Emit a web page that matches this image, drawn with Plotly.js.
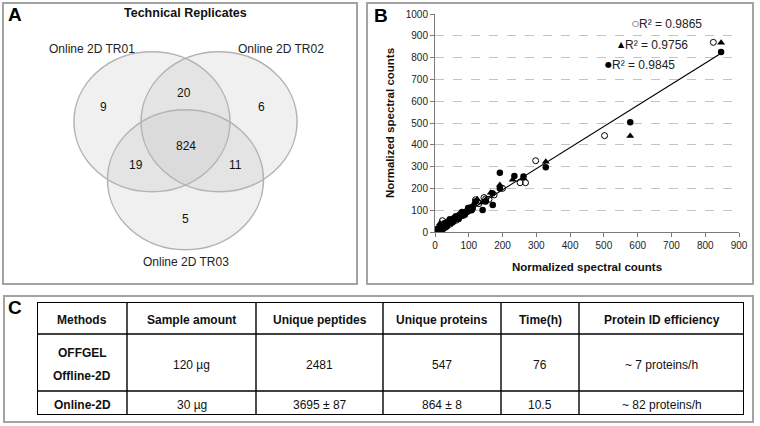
<!DOCTYPE html>
<html>
<head>
<meta charset="utf-8">
<script src="https://cdn.plot.ly/plotly-3.0.1.min.js"></script>
<style>html,body{margin:0;padding:0;background:#fff;}#chart{width:760px;height:426px;}</style>
</head>
<body>
<div id="chart"></div>
<script>
// ---------- DATA ----------
// Panel A: Venn diagram of technical replicates
const vennSets = ['Online 2D TR01', 'Online 2D TR02', 'Online 2D TR03'];
const vennRegions = ['TR01 only', 'TR02 only', 'TR03 only', 'TR01&TR02', 'TR01&TR03', 'TR02&TR03', 'All three'];
const vennCounts = [9, 6, 5, 20, 19, 11, 824];

// Panel B: normalized spectral counts (three replicate comparisons)
const openX = [2, 4, 5, 6, 8, 9, 10, 12, 14, 15, 16, 18, 20, 22, 24, 25, 28, 30, 32, 33, 36, 38, 40, 44, 45, 48, 52, 56, 58, 60, 63, 65, 70, 72, 75, 80, 85, 88, 90, 95, 100, 105, 110, 120, 130, 145, 150, 160, 175, 200, 252, 268, 298, 502, 824];
const openY = [3, 5, 12, 4, 9, 2, 12, 10, 15, 25, 18, 20, 22, 52, 14, 26, 30, 28, 22, 34, 38, 48, 42, 44, 36, 50, 52, 55, 66, 58, 54, 62, 66, 78, 72, 76, 82, 80, 88, 92, 98, 112, 105, 148, 130, 158, 152, 150, 170, 200, 226, 226, 327, 442, 870];
const triX = [1, 3, 5, 6, 7, 9, 11, 12, 13, 15, 17, 19, 20, 23, 26, 27, 30, 34, 35, 38, 42, 44, 46, 50, 52, 55, 60, 62, 65, 70, 70, 75, 78, 80, 85, 90, 92, 95, 100, 104, 110, 115, 120, 125, 140, 150, 165, 192, 230, 262, 328, 578, 847];
const triY = [2, 4, 6, 15, 8, 12, 10, 4, 16, 40, 18, 30, 22, 25, 28, 18, 32, 35, 44, 38, 45, 36, 48, 50, 62, 54, 60, 55, 64, 70, 80, 74, 70, 80, 84, 88, 100, 95, 100, 96, 108, 130, 140, 150, 135, 148, 180, 216, 240, 246, 322, 440, 868];
const filledX = [1, 2, 3, 4, 6, 8, 9, 10, 12, 14, 15, 18, 21, 22, 24, 27, 28, 30, 34, 36, 38, 42, 44, 46, 50, 53, 55, 60, 62, 66, 70, 72, 78, 80, 84, 88, 90, 96, 98, 102, 108, 112, 120, 141, 150, 171, 170, 192, 192, 235, 262, 328, 578, 847];
const filledY = [1, 3, 10, 5, 7, 9, 2, 11, 13, 24, 16, 18, 22, 14, 25, 26, 40, 30, 34, 28, 40, 45, 58, 55, 50, 46, 56, 62, 72, 66, 60, 70, 76, 92, 82, 80, 90, 96, 110, 104, 100, 115, 140, 101, 140, 124, 178, 272, 200, 257, 255, 297, 503, 826];
const trendX = [0, 847];
const trendY = [0, 820];
const rSquared = [0.9865, 0.9756, 0.9845];

// Panel C: method comparison table
const tableHeaders = ['Methods', 'Sample amount', 'Unique peptides', 'Unique proteins', 'Time(h)', 'Protein ID efficiency'];
const methods = ['OFFGEL\nOffline-2D', 'Online-2D'];
const sampleAmount = ['120 µg', '30 µg'];
const uniquePeptides = ['2481', '3695 ± 87'];
const uniqueProteins = ['547', '864 ± 8'];
const timeHours = ['76', '10.5'];
const efficiency = ['~ 7 proteins/h', '~ 82 proteins/h'];

// ---------- LAYOUT CONSTANTS ----------
const W = 760, H = 426;
const FONT = 'Liberation Sans, Arial, sans-serif';
const NARROW = 'Liberation Sans Narrow, Arial Narrow, Liberation Sans, Arial, sans-serif';
const frameColor = '#a3a3a3';

// Venn geometry (unit circles, axis scale makes them slightly elliptical)
const vennCenters = [[-0.43, 0.28], [0.43, 0.28], [0.0, -0.55]];
const vennSetLabelPos = [[-1.2, 1.32], [1.22, 1.32], [0.0, -1.73]];
const vennRegionPos = [[-1.045, 0.49], [0.98, 0.49], [0.006, -1.11], [-0.02, 0.69], [-0.635, -0.34], [0.647, -0.34], [0.006, -0.067]];

// Table geometry (relative units)
const colWidths = [90, 129, 127, 118, 78, 165];
const rowHeights = [32, 57, 24];

const traces = [];
const shapes = [];
const annotations = [];

// ---------- PANEL FRAMES ----------
function frame(x0, y0, x1, y1) {
  shapes.push({type: 'rect', xref: 'paper', yref: 'paper', x0: x0 / W, x1: x1 / W, y0: 1 - y0 / H, y1: 1 - y1 / H,
    line: {color: frameColor, width: 2}, fillcolor: 'rgba(0,0,0,0)', layer: 'below'});
}
frame(3, 3, 357, 284);
frame(367, 3, 753, 284);
frame(4, 296, 753, 422);
function panelLabel(t, x, y) {
  annotations.push({xref: 'paper', yref: 'paper', x: x / W, y: 1 - y / H, text: '<b>' + t + '</b>', showarrow: false,
    font: {family: FONT, size: 19, color: '#000'}, xanchor: 'center', yanchor: 'middle'});
}
panelLabel('A', 15, 15);
panelLabel('B', 381, 16);
panelLabel('C', 15, 307);

// ---------- PANEL A: VENN ----------
vennCenters.forEach(c => {
  shapes.push({type: 'circle', xref: 'x2', yref: 'y2', x0: c[0] - 1, x1: c[0] + 1, y0: c[1] - 1, y1: c[1] + 1,
    fillcolor: 'rgba(185,185,185,0.22)', line: {color: '#b3b3b3', width: 1.5}});
});
vennSets.forEach((s, i) => {
  annotations.push({xref: 'x2', yref: 'y2', x: vennSetLabelPos[i][0], y: vennSetLabelPos[i][1], text: s, showarrow: false,
    font: {family: FONT, size: 12, color: '#222'}});
});
vennCounts.forEach((v, i) => {
  annotations.push({xref: 'x2', yref: 'y2', x: vennRegionPos[i][0], y: vennRegionPos[i][1], text: String(v), showarrow: false,
    font: {family: FONT, size: 12, color: '#111'}});
});
annotations.push({xref: 'x2', yref: 'y2', x: -0.006, y: 1.83, text: '<b>Technical Replicates</b>', showarrow: false,
  font: {family: FONT, size: 12.5, color: '#111'}});
// invisible anchor trace for Venn axes
traces.push({type: 'scatter', x: [vennCenters[0][0]], y: [vennCenters[0][1]], xaxis: 'x2', yaxis: 'y2', mode: 'markers',
  marker: {opacity: 0}, hoverinfo: 'skip', showlegend: false});

// ---------- PANEL B: SCATTER ----------
traces.push({type: 'scatter', mode: 'markers', x: openX, y: openY, name: 'Open', showlegend: false,
  marker: {symbol: 'circle-open', size: 6, color: '#000', line: {width: 1, color: '#000'}}});
traces.push({type: 'scatter', mode: 'markers', x: triX, y: triY, name: 'Triangle', showlegend: false,
  marker: {symbol: 'triangle-up', size: 7, color: '#000'}});
traces.push({type: 'scatter', mode: 'markers', x: filledX, y: filledY, name: 'Filled', showlegend: false,
  marker: {symbol: 'circle', size: 6.5, color: '#000'}});
traces.push({type: 'scatter', mode: 'lines', x: trendX, y: trendY, showlegend: false, line: {color: '#000', width: 1.2}});

const r2Symbols = ['○', '▲', '●'];
const r2Pos = [[598, 955], [556, 860], [517, 767]];
rSquared.forEach((r, i) => {
  annotations.push({xref: 'x', yref: 'y', x: r2Pos[i][0] + 12, y: r2Pos[i][1], xanchor: 'right', yanchor: 'middle', showarrow: false,
    text: r2Symbols[i], font: {family: 'DejaVu Sans, sans-serif', size: 8, color: '#000'}});
  annotations.push({xref: 'x', yref: 'y', x: r2Pos[i][0], y: r2Pos[i][1], xanchor: 'left', yanchor: 'middle', showarrow: false,
    text: 'R² = ' + r.toFixed(4), font: {family: FONT, size: 12, color: '#222'}});
});

// ---------- PANEL C: TABLE ----------
const tableW = colWidths.reduce((a, b) => a + b, 0);
const tableH = rowHeights.reduce((a, b) => a + b, 0);
const colEdges = [0];
colWidths.forEach(w => colEdges.push(colEdges[colEdges.length - 1] + w));
const rowEdges = [0];
rowHeights.forEach(h => rowEdges.push(rowEdges[rowEdges.length - 1] + h));
colEdges.forEach((cx, i) => {
  const outer = i === 0 || i === colEdges.length - 1;
  shapes.push({type: 'line', xref: 'x3', yref: 'y3', x0: cx, x1: cx, y0: 0, y1: tableH, line: {color: '#000', width: outer ? 2 : 1.4}});
});
rowEdges.forEach((ry, i) => {
  const outer = i === 0 || i === rowEdges.length - 1;
  shapes.push({type: 'line', xref: 'x3', yref: 'y3', x0: 0, x1: tableW, y0: ry, y1: ry, line: {color: '#000', width: outer ? 2 : 1.4}});
});
const colCenter = i => (colEdges[i] + colEdges[i + 1]) / 2;
const rowCenter = i => (rowEdges[i] + rowEdges[i + 1]) / 2;
function cellText(txt, col, row, bold) {
  const lines = txt.split('\n');
  const spacing = 23;
  lines.forEach((ln, k) => {
    const y = rowCenter(row) + 2 + (k - (lines.length - 1) / 2) * spacing;
    annotations.push({xref: 'x3', yref: 'y3', x: colCenter(col), y: y, text: bold ? '<b>' + ln + '</b>' : ln, showarrow: false,
      xanchor: 'center', yanchor: 'middle', font: {family: NARROW, size: 12, color: '#111'}});
  });
}
tableHeaders.forEach((h, i) => cellText(h, i, 0, true));
const tableColumns = [methods, sampleAmount, uniquePeptides, uniqueProteins, timeHours, efficiency];
tableColumns.forEach((col, ci) => col.forEach((v, ri) => cellText(v, ci, ri + 1, ci === 0)));
traces.push({type: 'scatter', x: [colCenter(0)], y: [rowCenter(0)], xaxis: 'x3', yaxis: 'y3', mode: 'markers',
  marker: {opacity: 0}, hoverinfo: 'skip', showlegend: false});

// ---------- LAYOUT ----------
const layout = {
  width: W, height: H, autosize: false,
  margin: {l: 0, r: 0, t: 0, b: 0, pad: 0},
  paper_bgcolor: '#fff', plot_bgcolor: 'rgba(0,0,0,0)',
  showlegend: false,
  font: {family: FONT, color: '#222'},
  xaxis: {
    domain: [435 / W, 739 / W], range: [0, 900], dtick: 100, tick0: 0,
    showline: true, linecolor: '#7a7a7a', linewidth: 1, ticks: 'outside', ticklen: 4, tickcolor: '#7a7a7a',
    showgrid: false, zeroline: false, automargin: false,
    tickfont: {family: FONT, size: 10, color: '#222'},
    title: {text: '<b>Normalized spectral counts</b>', standoff: 12, font: {family: FONT, size: 11.5, color: '#111'}}
  },
  yaxis: {
    domain: [1 - 232 / H, 1 - 14 / H], range: [0, 1000], dtick: 100, tick0: 0,
    showline: true, linecolor: '#7a7a7a', linewidth: 1, ticks: 'outside', ticklen: 4, tickcolor: '#7a7a7a',
    showgrid: true, gridcolor: '#c4c4c4', griddash: 'dash', gridwidth: 1, zeroline: false, automargin: false,
    tickfont: {family: FONT, size: 10, color: '#222'},
    title: {text: '<b>Normalized spectral counts</b>', standoff: 8, font: {family: FONT, size: 11.5, color: '#111'}}
  },
  xaxis2: {domain: [0, 360 / W], range: [-185.5 / 78, 174.5 / 78], visible: false, anchor: 'y2', fixedrange: true},
  yaxis2: {domain: [0, 1], range: [(141.3 - H) / 70, 141.3 / 70], visible: false, anchor: 'x2', fixedrange: true},
  xaxis3: {domain: [37 / W, 744 / W], range: [0, tableW], visible: false, anchor: 'y3', fixedrange: true},
  yaxis3: {domain: [1 - 415 / H, 1 - 302 / H], range: [tableH, 0], visible: false, anchor: 'x3', fixedrange: true},
  shapes: shapes,
  annotations: annotations
};

Plotly.newPlot('chart', traces, layout, {displayModeBar: false, staticPlot: true});
</script>
</body>
</html>
